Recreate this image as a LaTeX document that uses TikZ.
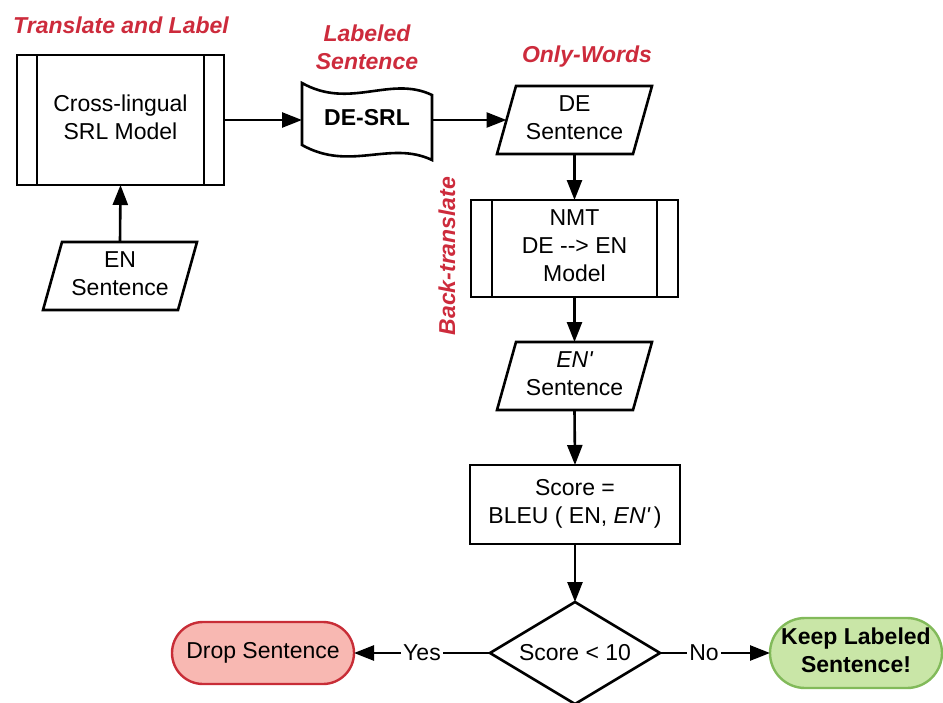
\documentclass[tikz,border=0pt]{standalone}
\usepackage{fontspec}
\newfontfamily\lsans{Liberation Sans}
\usetikzlibrary{arrows.meta,shapes.geometric}
\definecolor{labelred}{RGB}{205,43,60}
\definecolor{dropfill}{RGB}{248,184,178}
\definecolor{dropline}{RGB}{200,45,55}
\definecolor{keepfill}{RGB}{201,230,167}
\definecolor{keepline}{RGB}{130,186,90}
% outline of an input/output (parallelogram) node
\newcommand\slantbox[1]{%
  \draw[stroke] ([xshift=-9.5pt]#1.south west) -- ([xshift=9.5pt]#1.north west)
    -- ([xshift=9.5pt]#1.north east) -- ([xshift=-9.5pt]#1.south east) -- cycle;}
% side bars of a predefined-process node
\newcommand\processbars[2]{%
  \draw[stroke] ([xshift=#2]#1.north west) -- ([xshift=#2]#1.south west)
    ([xshift=-#2]#1.north east) -- ([xshift=-#2]#1.south east);}
\begin{document}
\begin{tikzpicture}[x=1pt,y=-1pt,
  font=\lsans\fontsize{23}{28}\selectfont,
  every node/.style={align=center, inner sep=0pt, outer sep=0pt},
  body/.style={text depth=5.5pt},
  stroke/.style={line width=2.6pt, line join=miter},
  box/.style={draw, stroke, rectangle, body},
  flow/.style={line width=2.6pt, -{Triangle[length=20pt,width=15pt]}},
  tag/.style={text=labelred, font=\lsans\bfseries\itshape\fontsize{23}{28}\selectfont},
  branch/.style={fill=white, inner sep=2pt}]
\useasboundingbox (0,0) rectangle (943,702);

% section captions
\node[tag] (captl) at (121,25) {Translate and Label};
\node[tag] (capls) at (367,47) {Labeled\\Sentence};
\node[tag] (capow) at (587,57) {Only-Words};
\node[tag, rotate=90] (capbt) at (447,256) {Back-translate};

% labelling stage
\node[box, minimum width=207pt, minimum height=130pt] (srl) at (120.5,120) {Cross-lingual\\SRL Model};
\processbars{srl}{20pt}
\node[body, minimum width=135pt, minimum height=68pt] (en) at (120,276) {EN\\Sentence};
\slantbox{en}

% labelled German sentence (wavy tape)
\node[body, minimum width=130pt, minimum height=62pt, font=\lsans\bfseries\fontsize{23}{28}\selectfont] (desrl) at (367,120) {DE-SRL};
\draw[stroke] (302,83) .. controls (350,110) and (390,75) .. (432,95)
  -- (432,160) .. controls (390,140) and (350,172) .. (302,145) -- cycle;

\node[body, minimum width=136pt, minimum height=68pt] (de) at (574.5,120) {DE\\Sentence};
\slantbox{de}

% back-translation stage
\node[box, minimum width=207pt, minimum height=97pt] (nmt) at (574.5,248.5) {NMT\\DE --> EN\\Model};
\processbars{nmt}{21pt}
\node[body, minimum width=136pt, minimum height=68pt] (enp) at (574.5,376) {{\itshape EN'}\\Sentence};
\slantbox{enp}

\node[box, minimum width=210pt, minimum height=79pt] (score) at (575,504.5) {Score =\\BLEU ( EN, {\itshape EN'}\,)};

% decision
\node[diamond, draw, stroke, aspect=1.67, minimum width=170pt, minimum height=102pt] (dec) at (575,653) {Score < 10};
\node[draw=dropline, fill=dropfill, line width=2.4pt, rounded corners=31pt,
  minimum width=182pt, minimum height=62pt] (drop) at (263,653) {Drop Sentence};
\node[body, draw=keepline, fill=keepfill, line width=2.4pt, rounded corners=35pt,
  minimum width=172pt, minimum height=70pt, font=\lsans\bfseries\fontsize{23}{28}\selectfont] (keep) at (856,653) {Keep Labeled\\Sentence!};

% connectors
\draw[flow] (en.north) -- (srl.south);
\draw[flow] (srl.east) -- (desrl.west);
\draw[flow] (desrl.east) -- (de.west);
\draw[flow] (de.south) -- (nmt.north);
\draw[flow] (nmt.south) -- (enp.north);
\draw[flow] (enp.south) -- (score.north);
\draw[flow] (score.south) -- (dec.north);
\draw[flow] (dec.west) -- node[branch] (yes) {Yes} (drop.east);
\draw[flow] (dec.east) -- node[branch, pos=0.4] (no) {No} (keep.west);
\end{tikzpicture}
\end{document}
